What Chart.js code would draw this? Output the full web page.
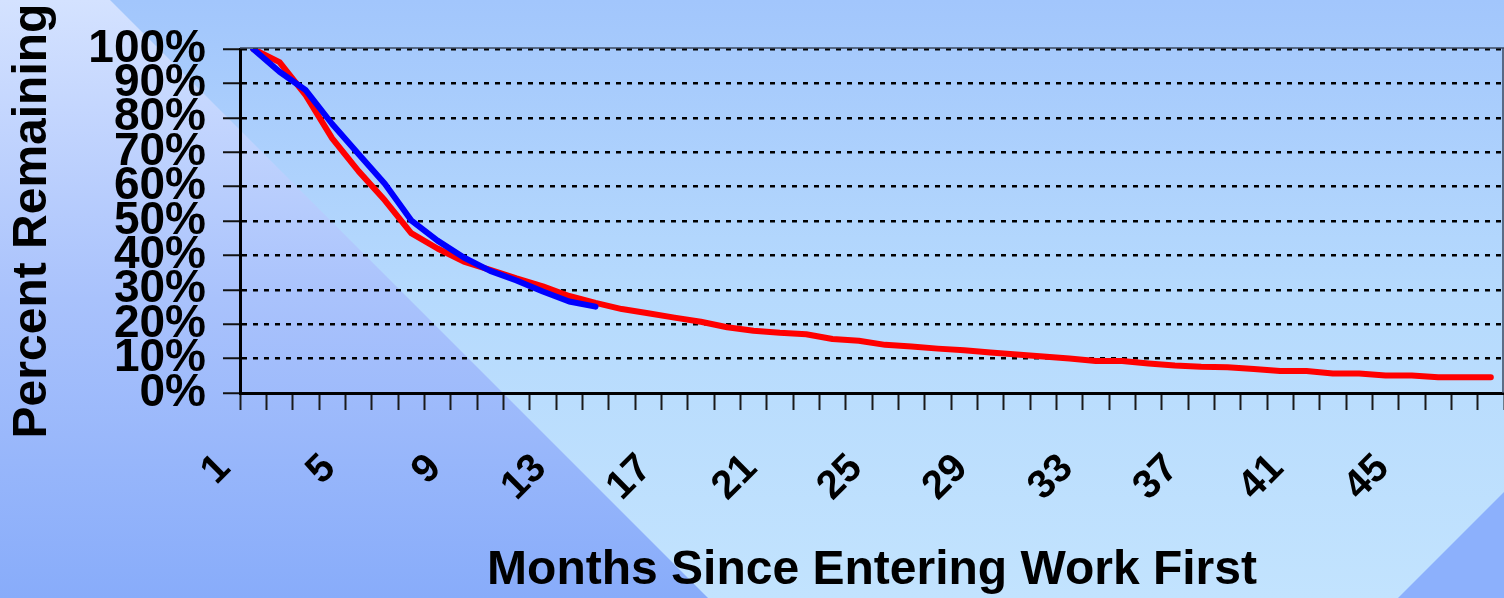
<!DOCTYPE html>
<html>
<head>
<meta charset="utf-8">
<script src="https://cdn.jsdelivr.net/npm/chart.js@4"></script>
<style>
html,body{margin:0;padding:0;background:#a8ccfc;overflow:hidden;}
canvas{display:block;}
</style>
</head>
<body>
<canvas id="c" width="1504" height="598"></canvas>
<script>
const categories = ['1','2','3','4','5','6','7','8','9','10','11','12','13','14','15','16',
  '17','18','19','20','21','22','23','24','25','26','27','28','29','30','31','32',
  '33','34','35','36','37','38','39','40','41','42','43','44','45','46','47','48'];
const shownTickLabels = ['1','5','9','13','17','21','25','29','33','37','41','45'];
const redValues = [100, 96.2, 86.5, 74, 64.5, 56, 46.5, 42, 38.2, 35.8, 33.3, 31, 28.2, 26.2, 24.4, 23.2,
  21.9, 20.7, 19.1, 18.1, 17.5, 17.1, 15.7, 15.2, 14.0, 13.5, 12.9, 12.4, 11.8, 11.2, 10.6, 10.0,
  9.3, 9.3, 8.6, 8.0, 7.6, 7.5, 7.0, 6.4, 6.4, 5.7, 5.7, 5.1, 5.1, 4.6, 4.6, 4.6];
const blueValues = [100, 93.4, 88, 78.2, 69.5, 60.8, 50.2, 44.3, 39.4, 35.5, 32.7, 29.5, 26.6, 25.1];
const yTitle = 'Percent Remaining';
const xTitle = 'Months Since Entering Work First';

const FONT = "'Liberation Sans', Arial, sans-serif";

const bgPlugin = {
  id: 'bg',
  beforeDraw(chart) {
    const ctx = chart.ctx, W = chart.width, H = chart.height;
    ctx.save();
    let g = ctx.createLinearGradient(0, 0, 0, H);
    g.addColorStop(0, '#a2c6fc');
    g.addColorStop(0.5, '#b6dafd');
    g.addColorStop(1, '#c2e3fe');
    ctx.fillStyle = g;
    ctx.fillRect(0, 0, W, H);
    g = ctx.createLinearGradient(0, 0, 0, H);
    g.addColorStop(0, '#d4e2ff');
    g.addColorStop(0.5, '#a9c2fc');
    g.addColorStop(1, '#88acfa');
    ctx.fillStyle = g;
    ctx.beginPath();
    ctx.moveTo(0, 0); ctx.lineTo(110, 0); ctx.lineTo(110 + H, H); ctx.lineTo(0, H); ctx.closePath();
    ctx.fill();
    ctx.fillStyle = '#8cb0fc';
    ctx.beginPath();
    ctx.moveTo(W, 492); ctx.lineTo(W, H); ctx.lineTo(W - 106, H); ctx.closePath();
    ctx.fill();
    ctx.restore();
  },
  afterDraw(chart) {
    const ctx = chart.ctx, a = chart.chartArea;
    ctx.save();
    ctx.strokeStyle = '#3c4a60';
    ctx.lineWidth = 1.5;
    ctx.beginPath();
    ctx.moveTo(a.left, a.top - 1); ctx.lineTo(a.right, a.top - 1);
    ctx.moveTo(a.right - 1, a.top - 1); ctx.lineTo(a.right - 1, a.bottom);
    ctx.stroke();
    ctx.restore();
  }
};

new Chart(document.getElementById('c'), {
  type: 'line',
  data: {
    labels: categories,
    datasets: [
      { label: 'Red', data: redValues, borderColor: '#ff0000', backgroundColor: '#ff0000', order: 1 },
      { label: 'Blue', data: blueValues, borderColor: '#0000ff', backgroundColor: '#0000ff', order: 0 }
    ]
  },
  plugins: [bgPlugin],
  options: {
    responsive: false,
    animation: false,
    devicePixelRatio: 1,
    layout: { padding: { top: 49, right: 0, left: 0, bottom: 0 } },
    plugins: { legend: { display: false }, tooltip: { enabled: false } },
    elements: {
      point: { radius: 0, hoverRadius: 0 },
      line: { tension: 0, borderWidth: 6, borderCapStyle: 'round', borderJoinStyle: 'round', fill: false }
    },
    scales: {
      x: {
        type: 'category',
        offset: true,
        grid: { display: true, offset: true, drawOnChartArea: false, drawTicks: true, tickLength: 17, tickColor: '#1a1a1a', tickWidth: 2 },
        border: { display: true, color: '#000', width: 3 },
        ticks: {
          autoSkip: false, minRotation: 45, maxRotation: 45, padding: 35, labelOffset: -29,
          color: '#000', font: { family: FONT, size: 40, weight: 'bold' },
          callback: function(v, i) { return shownTickLabels.includes(categories[i]) ? categories[i] : ''; }
        },
        title: { display: true, text: xTitle, color: '#000', font: { family: FONT, size: 48, weight: 'bold', lineHeight: 1 }, padding: { top: 0, bottom: 3 } },
        afterFit(s) { s.height = 205; s.paddingRight = 0; s.paddingLeft = 0; }
      },
      y: {
        min: 0, max: 100,
        grid: { color: '#000', lineWidth: 2.5, drawTicks: true, tickLength: 17, tickColor: '#111', tickWidth: 2, tickBorderDash: [] },
        border: { display: true, color: '#000', width: 3, dash: [5, 6] },
        ticks: {
          stepSize: 10, autoSkip: false, padding: 17, color: '#000',
          font: { family: FONT, size: 46, weight: 'bold' },
          callback: function(v) { return v + '%'; }
        },
        title: { display: true, text: yTitle, color: '#000', font: { family: FONT, size: 48, weight: 'bold', lineHeight: 1 }, padding: { top: 9, bottom: 0 } },
        afterFit(s) { s.width = 240; s.paddingTop = 0; s.paddingBottom = 0; }
      }
    }
  }
});
</script>
</body>
</html>
